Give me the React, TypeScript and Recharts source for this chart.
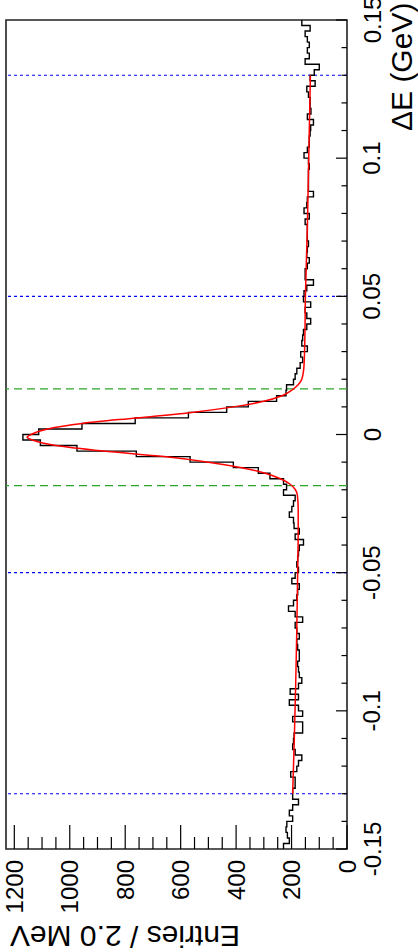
import React from 'react';
import { ComposedChart, Line, XAxis, YAxis, ReferenceLine, ReferenceArea } from 'recharts';

const FONT = 'Liberation Sans, Arial, Helvetica, sans-serif';

const BIN_START = -0.15;
const BIN_WIDTH = 0.002;

// entries per 2 MeV bin, starting at dE = -0.150 GeV going up
const counts = [
  229, 208, 215, 220, 217, 196, 208, 196, 175, 196,
  196, 187, 187, 203, 181, 175, 163, 187, 196, 193,
  191, 160, 160, 196, 160, 175, 208, 175, 205, 175,
  163, 172, 175, 178, 172, 172, 178, 181, 172, 181,
  187, 160, 187, 211, 193, 181, 178, 172, 199, 187,
  175, 181, 178, 175, 172, 157, 187, 172, 191, 193,
  208, 199, 193, 187, 229, 218, 229, 278, 320, 410,
  566, 760, 974, 1106, 1169, 1112, 956, 764, 572, 434,
  356, 254, 220, 218, 193, 187, 181, 169, 160, 167,
  143, 163, 160, 157, 145, 131, 145, 151, 131, 157,
  155, 145, 121, 151, 151, 143, 136, 145, 143, 139,
  143, 143, 143, 151, 136, 155, 145, 143, 121, 139,
  139, 139, 139, 136, 139, 155, 143, 136, 136, 133,
  131, 121, 143, 130, 133, 133, 139, 145, 115, 133,
  118, 100, 151, 136, 143, 136, 143, 151, 133, 163,
];

// fitted curve
const fitE = [
  -0.13, -0.11, -0.09, -0.07, -0.05, -0.035, -0.027, -0.022, -0.02, -0.018,
  -0.016, -0.014, -0.012, -0.01, -0.008, -0.006, -0.004, -0.002, -0.001, 0,
  0.002, 0.004, 0.006, 0.008, 0.01, 0.012, 0.014, 0.016, 0.018, 0.02,
  0.025, 0.035, 0.05, 0.075, 0.1, 0.13,
];
const fitN = [
  196, 190, 185, 181, 178, 176, 176, 179, 186, 205,
  240, 295, 380, 500, 660, 880, 1050, 1135, 1154, 1140,
  1080, 955, 760, 560, 410, 300, 235, 200, 176, 163,
  155, 152, 150, 143, 138, 132,
];

const entryTicks = [0, 200, 400, 600, 800, 1000, 1200];
const eTicks = [-0.15, -0.1, -0.05, 0, 0.05, 0.1, 0.15];
const blueCuts = [-0.13, -0.05, 0.05, 0.13];
const greenCuts = [-0.0185, 0.0165];

const entryMinor = Array.from({ length: 25 }, (_, i) => i * 50);
const eMinor = Array.from({ length: 31 }, (_, i) => Math.round((-0.15 + i * 0.01) * 1000) / 1000);

const histData = counts.flatMap((n, i) => {
  const lo = Math.round((BIN_START + i * BIN_WIDTH) * 10000) / 10000;
  const hi = Math.round((lo + BIN_WIDTH) * 10000) / 10000;
  return [{ e: lo, n }, { e: hi, n }];
});
const fitData = fitE.map((e, i) => ({ e, f: fitN[i] }));

function EntriesTick(props: any) {
  const { x, y, payload } = props;
  const v = payload.value;
  const major = entryTicks.includes(v);
  return (
    <g>
      <line x1={x} y1={y} x2={x} y2={y - (major ? 24 : 12)} stroke="#000" strokeWidth={1.2} />
      {major && (
        <text x={x} y={y + 11} transform={`rotate(-90 ${x} ${y + 11})`} textAnchor="end"
          dominantBaseline="central" fontSize={24} fontFamily={FONT} fill="#000">{v}</text>
      )}
    </g>
  );
}

function ETick(props: any) {
  const { x, y, payload } = props;
  const v = payload.value;
  const major = eTicks.some(t => Math.abs(t - v) < 1e-6);
  const tx = x + 25;
  return (
    <g>
      <line x1={x} y1={y} x2={x - (major ? 11 : 5.5)} y2={y} stroke="#000" strokeWidth={1.2} />
      {major && (
        <text x={tx} y={y} transform={`rotate(-90 ${tx} ${y})`} textAnchor="middle"
          dominantBaseline="central" fontSize={24} fontFamily={FONT} fill="#000">
          {String(Math.round(v * 100) / 100)}
        </text>
      )}
    </g>
  );
}

export default function App() {
  return (
    <div style={{ position: 'absolute', left: 0, top: 0, width: 418, height: 952, background: '#fff', overflow: 'hidden' }}>
      <ComposedChart width={418} height={952} layout="vertical" margin={{ top: 20, right: 0, bottom: 0, left: 6 }}>
        <XAxis type="number" domain={[0, 1230]} allowDataOverflow reversed ticks={entryMinor} interval={0}
          tick={<EntriesTick />} tickLine={false} axisLine={false} tickSize={0} tickMargin={0} height={103} />
        <YAxis type="number" dataKey="e" domain={[-0.15, 0.15]} allowDataOverflow reversed orientation="right"
          ticks={eMinor} interval={0} tick={<ETick />} tickLine={false} axisLine={false} tickSize={0} tickMargin={0} width={71} />
        {blueCuts.map(v => (
          <ReferenceLine key={`b${v}`} y={v} stroke="#0000ff" strokeDasharray="3 3" strokeWidth={1.2} />
        ))}
        {greenCuts.map(v => (
          <ReferenceLine key={`g${v}`} y={v} stroke="#2aa52a" strokeDasharray="8 5" strokeWidth={1.2} />
        ))}
        <Line data={histData} dataKey="n" type="linear" stroke="#000" strokeWidth={1.4} dot={false} isAnimationActive={false} />
        <Line data={fitData} dataKey="f" type="monotone" stroke="#ff0000" strokeWidth={1.5} dot={false} isAnimationActive={false} />
        <ReferenceArea x1={0} x2={1230} y1={-0.15} y2={0.15} fill="none" stroke="#222" strokeWidth={1.6} />
        <text x={412} y={131} transform="rotate(-90 412 131)" fontSize={30} fontFamily={FONT} fill="#000">ΔE (GeV)</text>
        <text x={240} y={926} transform="rotate(180 240 926)" fontSize={30} fontFamily={FONT} fill="#000">Entries / 2.0 MeV</text>
      </ComposedChart>
    </div>
  );
}
